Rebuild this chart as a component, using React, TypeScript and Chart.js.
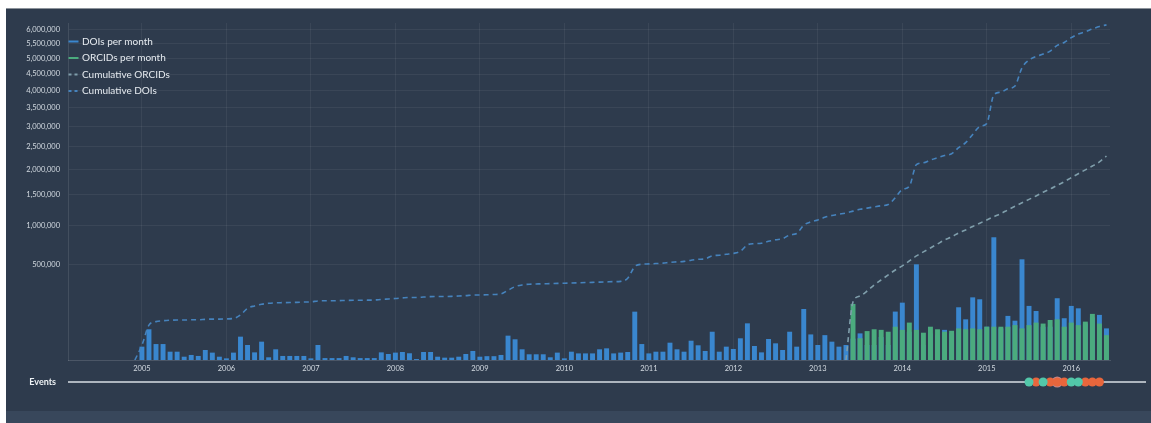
import React, { useEffect, useRef } from 'react';
import { Chart, registerables, LinearScale } from 'chart.js';

Chart.register(...registerables);

// Square-root value scale (the reference y axis is sqrt-scaled)
class SqrtScale extends LinearScale {
  static id = 'sqrt';
  static defaults = {};
  getPixelForValue(value: number) {
    if (value === null || value === undefined || isNaN(value)) return NaN;
    const a = Math.sqrt(Math.max((this as any).min, 0));
    const b = Math.sqrt(Math.max((this as any).max, 0));
    return this.getPixelForDecimal((Math.sqrt(Math.max(value, 0)) - a) / (b - a));
  }
  getValueForPixel(pixel: number) {
    const a = Math.sqrt(Math.max((this as any).min, 0));
    const b = Math.sqrt(Math.max((this as any).max, 0));
    const s = a + this.getDecimalForPixel(pixel) * (b - a);
    return s * s;
  }
}
Chart.register(SqrtScale as any);

// ---------- categories ----------
const firstYear = 2004, firstMonthNum = 3, lastYear = 2016, lastMonthNum = 6;
const months: string[] = [];
for (let y = firstYear; y <= lastYear; y++) {
  for (let m = 1; m <= 12; m++) {
    if ((y === firstYear && m < firstMonthNum) || (y === lastYear && m > lastMonthNum)) continue;
    months.push(`${y}-${String(m).padStart(2, '0')}`);
  }
}

// ---------- tick labels ----------
const yTicks = [500000, 1000000, 1500000, 2000000, 2500000, 3000000, 3500000, 4000000, 4500000, 5000000, 5500000, 6000000];
const yMax = 6250000;

// ---------- series ----------
// DOIs per month, from 2005-01
const doisStart = '2005-01';
const doisPerMonth = [
  9800, 52000, 14000, 14000, 3800, 3800, 600, 1400, 900, 5500, 3000, 600,
  150, 3000, 30000, 12400, 3200, 18500, 400, 6300, 900, 900, 900, 900,
  150, 12400, 200, 200, 200, 900, 400, 200, 200, 200, 3200, 2000,
  3000, 3500, 2500, 50, 3500, 3500, 600, 300, 300, 600, 2000, 4500,
  600, 800, 800, 1400, 32600, 23600, 6300, 1800, 1800, 1800, 400, 3000,
  150, 3800, 2400, 2400, 2400, 6300, 7500, 2400, 3000, 3500, 128600, 14000,
  2400, 3800, 3800, 16500, 6300, 3800, 20500, 11900, 4500, 44000, 3800, 9800,
  6700, 25900, 74000, 10800, 3200, 24300, 15300, 5500, 44000, 9800, 143000, 36000,
  12400, 34000, 18500, 9800, 12400, 25000, 39000, 12400, 12400, 29000, 12400, 129000,
  181000, 44000, 504000, 12400, 39000, 34000, 50000, 39000, 153000, 91000, 216000, 203000,
  61000, 829000, 55000, 107000, 85000, 558000, 161000, 132000, 61000, 61000, 210000, 96000,
  161000, 147000, 73000, 100000, 112000, 55000,
];

// ORCIDs per month, from 2013-06
const orcidsStart = '2013-06';
const orcidsPerMonth = [
  173000, 26000, 46000, 52000, 50000, 44000, 61000,
  50000, 77000, 50000, 41000, 61000, 52000, 44000, 47000, 55000, 52000, 55000, 52000,
  61000, 61000, 61000, 61000, 67000, 55000, 67000, 77000, 73000, 88000, 91000, 61000,
  77000, 67000, 81000, 117000, 73000, 34000,
];

// Cumulative ORCIDs, from 2013-05
const cumOrcidsStart = '2013-05';
const cumulativeOrcids = [
  0, 185000, 226000, 262000, 310000, 353000, 398000, 446000,
  487000, 540000, 596000, 643000, 691000, 741000, 793000, 834000, 889000, 931000, 982000, 1030000,
  1080000, 1130000, 1180000, 1240000, 1300000, 1360000, 1420000, 1480000, 1550000, 1610000, 1680000, 1750000,
  1830000, 1910000, 1990000, 2070000, 2160000, 2290000,
];

// Cumulative DOIs, from 2004-12
const cumDoisStart = '2004-12';
const cumulativeDois = [
  0,
  12000, 67000, 81000, 85000, 87000, 88000, 88000, 89000, 89000, 91000, 92000, 92000,
  93000, 95000, 112000, 147000, 161000, 171000, 177000, 180000, 181000, 182000, 183000, 185000,
  186000, 192000, 193000, 193000, 194000, 195000, 196000, 196000, 197000, 198000, 202000, 205000,
  208000, 212000, 215000, 215000, 218000, 221000, 222000, 222000, 223000, 225000, 228000, 232000,
  233000, 234000, 236000, 240000, 268000, 296000, 310000, 316000, 318000, 320000, 321000, 323000,
  324000, 326000, 328000, 330000, 332000, 334000, 336000, 338000, 340000, 368000, 480000, 505000,
  508000, 512000, 516000, 525000, 530000, 535000, 548000, 558000, 563000, 598000, 604000, 615000,
  625000, 650000, 730000, 745000, 750000, 775000, 795000, 810000, 860000, 880000, 1000000, 1050000,
  1080000, 1120000, 1150000, 1170000, 1190000, 1220000, 1250000, 1270000, 1290000, 1310000, 1330000, 1450000,
  1600000, 1660000, 2100000, 2140000, 2200000, 2250000, 2300000, 2340000, 2480000, 2600000, 2800000, 3000000,
  3080000, 3870000, 3950000, 4050000, 4130000, 4700000, 4950000, 5070000, 5150000, 5250000, 5450000, 5550000,
  5720000, 5850000, 5930000, 6030000, 6120000, 6180000,
];

// Events (month of each event)
const tealEvents = ['2015-07', '2015-09', '2016-01', '2016-02'];
const orangeEvents = ['2015-08', '2015-10', '2015-11', '2015-12', '2016-03', '2016-04', '2016-05'];
const pinkEvents = ['2015-11'];

// ---------- styling ----------
const COL_DOI = '#3a87cf';
const COL_ORCID = '#4bab7e';
const COL_CUM_ORCID = '#7f9eab';
const COL_CUM_DOI = '#4683bd';
const TICK_COLOR = '#d3dae1';
const GRID = 'rgba(255,255,255,0.06)';
const FONT = 'Lato, "Open Sans", sans-serif';

function alignFrom(start: string, values: number[]) {
  const idx = months.indexOf(start);
  return months.map((_, i) => (i >= idx && i - idx < values.length ? values[i - idx] : null));
}

const insideLegend = {
  id: 'insideLegend',
  afterDraw(chart: any) {
    const { ctx, chartArea } = chart;
    ctx.save();
    chart.data.datasets.forEach((ds: any, i: number) => {
      const y = chartArea.top + 18.5 + i * 16.5;
      const x = chartArea.left;
      ctx.strokeStyle = ds.borderColor;
      ctx.lineWidth = 2;
      ctx.setLineDash(ds.type === 'line' ? [3, 3] : []);
      ctx.beginPath();
      ctx.moveTo(x + 0.5, y);
      ctx.lineTo(x + 10.5, y);
      ctx.stroke();
      ctx.setLineDash([]);
      ctx.fillStyle = '#e6ebf0';
      ctx.font = `10px ${FONT}`;
      ctx.textBaseline = 'middle';
      ctx.textAlign = 'left';
      ctx.fillText(ds.label, x + 14, y);
    });
    ctx.restore();
  },
};

const eventLine = {
  id: 'eventLine',
  beforeDatasetsDraw(chart: any) {
    const { ctx, chartArea } = chart;
    const y = chart.scales.y.getPixelForValue(0);
    ctx.save();
    ctx.strokeStyle = '#d9dfe5';
    ctx.lineWidth = 1.3;
    ctx.beginPath();
    ctx.moveTo(chartArea.left, y);
    ctx.lineTo(chart.width - 5, y);
    ctx.stroke();
    ctx.restore();
  },
};

export default function App() {
  const mainRef = useRef<HTMLCanvasElement>(null);
  const evRef = useRef<HTMLCanvasElement>(null);

  useEffect(() => {
    const main = new Chart(mainRef.current as HTMLCanvasElement, {
      type: 'bar',
      data: {
        labels: months,
        datasets: [
          {
            type: 'bar',
            label: 'DOIs per month',
            data: alignFrom(doisStart, doisPerMonth),
            backgroundColor: COL_DOI,
            borderColor: COL_DOI,
            borderWidth: 0,
            grouped: false,
            barPercentage: 0.7,
            categoryPercentage: 1,
            order: 3,
          },
          {
            type: 'bar',
            label: 'ORCIDs per month',
            data: alignFrom(orcidsStart, orcidsPerMonth),
            backgroundColor: COL_ORCID,
            borderColor: COL_ORCID,
            borderWidth: 0,
            grouped: false,
            barPercentage: 0.7,
            categoryPercentage: 1,
            order: 2,
          },
          {
            type: 'line',
            label: 'Cumulative ORCIDs',
            data: alignFrom(cumOrcidsStart, cumulativeOrcids),
            borderColor: COL_CUM_ORCID,
            borderWidth: 1.6,
            borderDash: [5, 4],
            pointRadius: 0,
            cubicInterpolationMode: 'monotone',
            fill: false,
            order: 1,
          },
          {
            type: 'line',
            label: 'Cumulative DOIs',
            data: alignFrom(cumDoisStart, cumulativeDois),
            borderColor: COL_CUM_DOI,
            borderWidth: 1.6,
            borderDash: [5, 4],
            pointRadius: 0,
            cubicInterpolationMode: 'monotone',
            fill: false,
            order: 0,
          },
        ] as any,
      },
      options: {
        responsive: false,
        animation: false,
        layout: { padding: { left: 4, right: 41, top: 14, bottom: 0 } },
        plugins: { legend: { display: false }, tooltip: { enabled: false } },
        scales: {
          x: {
            type: 'category',
            offset: true,
            grid: { offset: false, color: GRID, drawTicks: false },
            border: { display: true, color: 'rgba(255,255,255,0.14)' },
            ticks: {
              autoSkip: false,
              maxRotation: 0,
              minRotation: 0,
              padding: 4,
              color: TICK_COLOR,
              font: { family: FONT, size: 7.5 },
              callback: (v: any) => months[v].slice(0, 4),
            },
            afterBuildTicks: (s: any) => {
              s.ticks = s.ticks.filter((t: any) => months[t.value].endsWith('-01'));
            },
            afterFit: (s: any) => {
              s.height = 15;
              s.paddingLeft = 0;
              s.paddingRight = 0;
            },
          },
          y: {
            type: 'sqrt',
            min: 0,
            max: yMax,
            grid: { color: GRID, drawTicks: false },
            border: { display: true, color: 'rgba(255,255,255,0.1)' },
            ticks: {
              padding: 8,
              color: TICK_COLOR,
              font: { family: FONT, size: 7.5 },
              callback: (v: any) => Number(v).toLocaleString('en-US'),
            },
            afterBuildTicks: (s: any) => {
              s.ticks = yTicks.map((v) => ({ value: v }));
            },
            afterFit: (s: any) => {
              s.width = 58;
              s.paddingTop = 0;
              s.paddingBottom = 0;
            },
          },
        } as any,
      },
      plugins: [insideLegend],
    });

    const ev = new Chart(evRef.current as HTMLCanvasElement, {
      type: 'scatter',
      data: {
        labels: months,
        datasets: [
          {
            label: 'Teal events',
            data: tealEvents.map((m) => ({ x: m, y: 0 })),
            backgroundColor: '#52c7a9',
            borderWidth: 0,
            pointRadius: 4.5,
            clip: false,
          },
          {
            label: 'Orange events',
            data: orangeEvents.map((m) => ({ x: m, y: 0 })),
            backgroundColor: '#e8663c',
            borderWidth: 0,
            pointRadius: 4.5,
            clip: false,
          },
          {
            label: 'Highlighted events',
            data: pinkEvents.map((m) => ({ x: m, y: 0 })),
            backgroundColor: 'rgba(240,165,170,0.75)',
            borderWidth: 0,
            pointRadius: 5.5,
            clip: false,
          },
        ] as any,
      },
      options: {
        responsive: false,
        animation: false,
        layout: { padding: { left: 4, right: 41, top: 8, bottom: 8 } },
        plugins: { legend: { display: false }, tooltip: { enabled: false } },
        scales: {
          x: { type: 'category', labels: months, offset: true, display: false },
          y: {
            min: -1,
            max: 1,
            grid: { display: false },
            border: { display: false },
            ticks: {
              padding: 4,
              color: '#eef2f5',
              font: { family: FONT, size: 9, weight: 'bold' },
              callback: () => 'Events',
            },
            afterBuildTicks: (s: any) => {
              s.ticks = [{ value: 0 }];
            },
            afterFit: (s: any) => {
              s.width = 58;
              s.paddingTop = 0;
              s.paddingBottom = 0;
            },
          },
        } as any,
      },
      plugins: [eventLine],
    });

    return () => {
      main.destroy();
      ev.destroy();
    };
  }, []);

  return (
    <div style={{ position: 'absolute', left: 0, top: 0, width: 1151, height: 423, background: '#ffffff', overflow: 'hidden' }}>
      <div style={{ position: 'absolute', left: 6, top: 8, width: 1145, height: 403, background: '#2e3b4d', borderTop: '1px solid #8c939b' }} />
      <div style={{ position: 'absolute', left: 6, top: 411, width: 1145, height: 12, background: '#38475b' }} />
      <canvas ref={mainRef} width={1145} height={366} style={{ position: 'absolute', left: 6, top: 9, width: 1145, height: 366 }} />
      <canvas ref={evRef} width={1145} height={32} style={{ position: 'absolute', left: 6, top: 366, width: 1145, height: 32 }} />
    </div>
  );
}
